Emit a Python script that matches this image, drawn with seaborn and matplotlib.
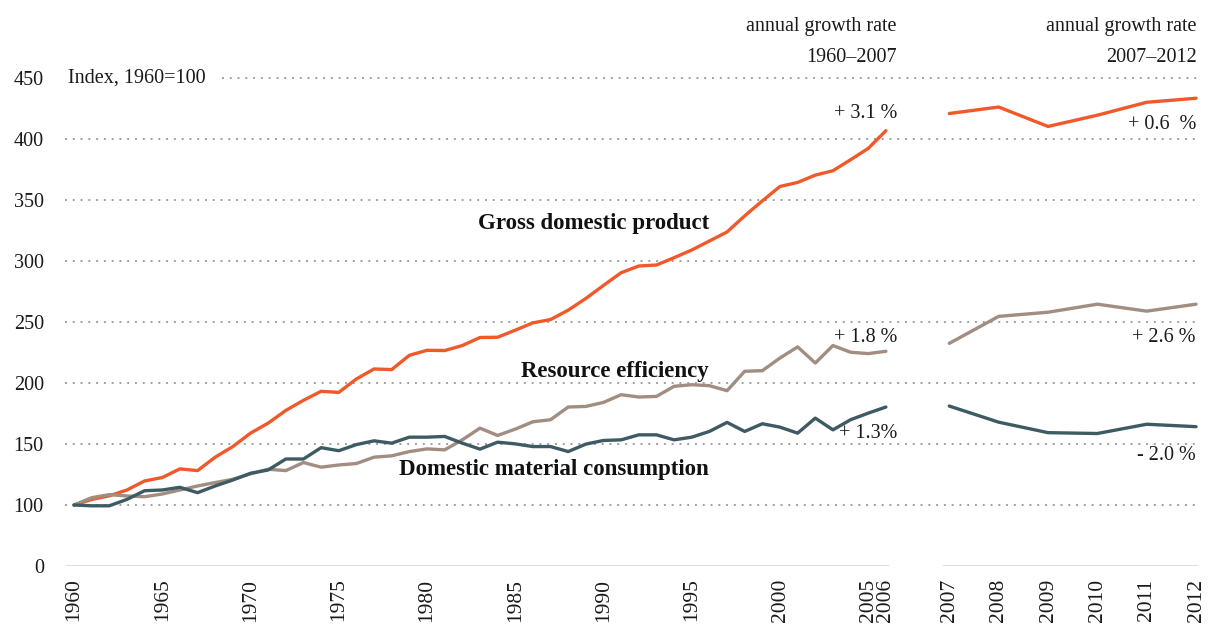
import numpy as np
import pandas as pd
import matplotlib
matplotlib.use("Agg")
import matplotlib.pyplot as plt
import seaborn as sns
from matplotlib.transforms import blended_transform_factory

# ---------------- data ----------------
years_a = list(range(1960, 2007))
gdp_a = [100, 104.5, 107.5, 112.3, 119.7, 122.5, 129.6, 128.2, 139.2, 147.9,
         158.9, 167.1, 177.5, 185.8, 193.2, 192.3, 203.3, 211.5, 211.0, 222.7,
         226.8, 226.6, 230.7, 237.3, 237.5, 243.3, 249.3, 252.0, 259.7, 269.3,
         280.0, 290.4, 295.9, 296.7, 302.7, 309.0, 316.4, 323.8, 337.0, 349.3,
         361.1, 364.4, 370.4, 374.0, 383.0, 392.3, 406.8]
eff_a = [100, 106.0, 108.5, 107.4, 106.8, 109.0, 112.3, 115.6, 118.4, 121.1,
         125.5, 129.3, 128.2, 134.8, 131.0, 132.8, 134.0, 139.2, 140.3, 143.8,
         146.0, 145.2, 153.4, 163.0, 157.0, 162.2, 168.2, 169.9, 180.3, 180.8,
         184.1, 190.4, 188.5, 189.0, 197.3, 198.6, 197.8, 193.7, 209.6, 210.1,
         220.5, 229.6, 216.4, 230.7, 225.2, 224.1, 226.0]
dmc_a = [100, 98.7, 98.7, 104.6, 111.7, 112.3, 114.5, 110.1, 115.6, 120.5,
         126.0, 128.7, 137.7, 137.7, 147.0, 144.5, 149.5, 152.6, 150.7, 155.6,
         155.6, 156.2, 150.7, 145.8, 151.5, 150.1, 147.9, 147.9, 143.8, 149.9,
         152.9, 153.4, 157.5, 157.5, 153.4, 155.6, 160.3, 167.7, 160.3, 166.6,
         163.8, 158.9, 171.2, 161.6, 169.9, 175.3, 180.3]

years_b = [2007, 2008, 2009, 2010, 2011, 2012]
gdp_b = [420.9, 426.2, 410.3, 419.5, 430.1, 433.4]
eff_b = [232.5, 254.6, 258.0, 264.6, 258.9, 264.6]
dmc_b = [181.1, 167.9, 159.3, 158.6, 166.2, 164.2]

series_names = ["Gross domestic product", "Resource efficiency",
                "Domestic material consumption"]
rates_a = ["+ 3.1 %", "+ 1.8 %", "+ 1.3%"]
rates_b = ["+ 0.6  %", "+ 2.6 %", "- 2.0 %"]
xticks_a = [1960, 1965, 1970, 1975, 1980, 1985, 1990, 1995, 2000, 2005, 2006]
yticks = [0, 100, 150, 200, 250, 300, 350, 400, 450]

colors = {"Gross domestic product": "#F0592A",
          "Resource efficiency": "#A18D82",
          "Domestic material consumption": "#3E5A62"}

df_a = pd.DataFrame({"year": years_a * 3,
                     "value": gdp_a + eff_a + dmc_a,
                     "series": np.repeat(series_names, len(years_a))})
df_b = pd.DataFrame({"year": years_b * 3,
                     "value": gdp_b + eff_b + dmc_b,
                     "series": np.repeat(series_names, len(years_b))})

# ---------------- style ----------------
sns.set_theme(style="white")
plt.rcParams["font.family"] = ["Liberation Serif", "DejaVu Serif"]
TXT = "#1a1a1a"

W, H = 1208, 635
fig = plt.figure(figsize=(W / 100, H / 100), dpi=100)


def fx(px):
    return px / W


def fy(py):
    return 1 - py / H


# broken axis: 0..100 compressed to half
def fwd(y):
    y = np.asarray(y, dtype=float)
    return np.where(y >= 100, y, 50 + y / 2)


def inv(u):
    u = np.asarray(u, dtype=float)
    return np.where(u >= 100, u, (u - 50) * 2)


y0, y1 = 566, 78
ax1 = fig.add_axes([fx(66), fy(y0), fx(889 - 66), (y0 - y1) / H])
ax2 = fig.add_axes([fx(943), fy(y0), fx(1198 - 943), (y0 - y1) / H])

for ax, df in ((ax1, df_a), (ax2, df_b)):
    ax.set_yscale("function", functions=(fwd, inv))
    sns.lineplot(data=df, x="year", y="value", hue="series",
                 hue_order=series_names, palette=colors, linewidth=2.4,
                 legend=False, ax=ax, zorder=3)
    ax.set_ylim(0, 450)
    ax.set_xlabel("")
    ax.set_ylabel("")
    for s in ax.spines.values():
        s.set_visible(False)
    ax.axhline(0, color="#d9d9d9", lw=2, zorder=1)
    ax.tick_params(axis="both", length=0, labelsize=14.5, colors=TXT)
    ax.tick_params(axis="x", pad=9, labelsize=15.5)
    ax.set_facecolor("none")
    ax.grid(False)

ax1.set_xlim(1960 - 8 / 17.65, 1960 + (889 - 74) / 17.65)
ax2.set_xlim(2007 - 6.3 / 49.35, 2007 + (1198 - 949.3) / 49.35)

ax1.set_xticks(xticks_a)
ax1.set_xticklabels([str(t) for t in xticks_a], rotation=90)
ax2.set_xticks(years_b)
ax2.set_xticklabels([str(t) for t in years_b], rotation=90)

ax1.set_yticks(yticks)
ax1.set_yticklabels([str(t) for t in yticks])
ax1.tick_params(axis="y", pad=16)
for lab in ax1.get_yticklabels():
    lab.set_horizontalalignment("right")
ax2.set_yticks(yticks)
ax2.set_yticklabels([])

# dotted gridlines across both panels
tr = blended_transform_factory(fig.transFigure, ax1.transData)
for v in yticks[1:]:
    start = 222 if v == 450 else 65
    ax1.plot([fx(start), fx(1198)], [v, v], transform=tr, clip_on=False,
             color="#a0a0a0", lw=1.4, ls=(0, (1, 3)), zorder=0)

# ---------------- texts ----------------
fig.text(fx(68), fy(78), "Index, 1960=100", fontsize=14.5, color=TXT,
         ha="left", va="center")

for xr, (l1, l2) in ((897, ("annual growth rate", "1960–2007")),
                     (1197, ("annual growth rate", "2007–2012"))):
    fig.text(fx(xr), fy(27), l1, fontsize=14.5, color=TXT, ha="right", va="center")
    fig.text(fx(xr), fy(57), l2, fontsize=14.5, color=TXT, ha="right", va="center")

for t, yy in zip(rates_a, (113, 337, 434)):
    fig.text(fx(897), fy(yy), t, fontsize=14.5, color=TXT, ha="right", va="center")
for t, yy in zip(rates_b, (124, 337, 456)):
    fig.text(fx(1196), fy(yy), t, fontsize=14.5, color=TXT, ha="right", va="center")

for name, yy in zip(series_names, (224, 371, 469)):
    fig.text(fx(709), fy(yy), name, fontsize=16.5, fontweight="bold",
             color="#111111", ha="right", va="center")

fig.savefig("out.png", dpi=100, facecolor="white")
